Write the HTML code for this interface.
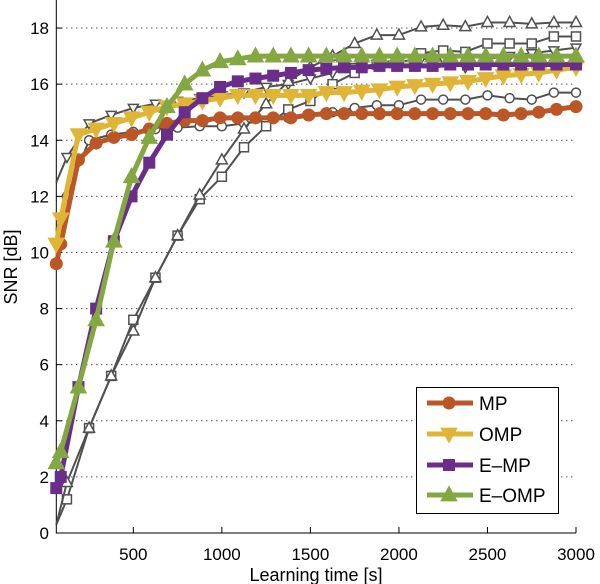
<!DOCTYPE html>
<html><head><meta charset="utf-8"><style>
html,body{margin:0;padding:0;background:#fff;}
svg{display:block;font-family:"Liberation Sans",Arial,sans-serif;}
</style></head><body>
<svg id="chart" width="600" height="584" viewBox="0 0 600 584"></svg>
<script>
const xTicks=[500,1000,1500,2000,2500,3000];
const yTicks=[0,2,4,6,8,10,12,14,16,18];
const colX=[65,90,190,290,390,490,590,690,790,890,990,1090,1190,1290,1390,1490,1590,1690,1790,1890,1990,2090,2190,2290,2390,2490,2590,2690,2790,2890,3000];
const mpVals=[9.6,10.3,13.3,13.9,14.1,14.2,14.4,14.6,14.7,14.7,14.8,14.8,14.8,14.8,14.8,14.9,14.95,14.95,14.95,14.95,14.95,14.95,14.95,14.95,14.95,14.95,14.9,14.95,15.0,15.1,15.2];
const ompVals=[10.3,11.2,14.2,14.4,14.6,14.8,15.0,15.2,15.3,15.4,15.5,15.6,15.6,15.6,15.6,15.6,15.7,15.7,15.75,15.8,15.9,15.95,16.0,16.05,16.1,16.2,16.3,16.35,16.4,16.5,16.6];
const empVals=[1.6,2.0,5.2,8.0,10.4,12.0,13.2,14.2,15.0,15.5,15.9,16.1,16.2,16.3,16.4,16.5,16.55,16.6,16.6,16.65,16.65,16.65,16.65,16.7,16.7,16.7,16.7,16.7,16.7,16.7,16.7];
const eompVals=[2.5,2.9,5.2,7.6,10.4,12.7,14.1,15.2,16.0,16.5,16.8,16.9,17.0,17.0,17.0,17.0,17.0,17.0,17.0,17.0,17.0,17.0,17.0,17.0,17.0,17.0,17.0,17.0,17.0,17.0,17.0];
const grayX=[65,125,250,375,500,625,750,875,1000,1125,1250,1375,1500,1625,1750,1875,2000,2125,2250,2375,2500,2625,2750,2875,3000];
const gCircle=[10.8,12.0,14.0,14.2,14.3,14.4,14.45,14.5,14.5,14.6,14.7,14.8,14.9,15.0,15.15,15.25,15.25,15.45,15.45,15.45,15.6,15.5,15.45,15.7,15.7];
const gDown=[12.5,13.4,14.6,14.9,15.15,15.3,15.4,15.5,15.6,15.7,15.9,16.0,16.2,16.4,16.6,16.7,16.8,16.9,16.9,16.6,16.9,17.0,17.1,17.2,17.3];
const gSquare=[0.3,1.2,3.74,5.6,7.6,9.1,10.6,11.9,12.7,13.75,14.5,15.1,15.4,16.0,16.4,16.7,16.9,17.1,17.2,17.15,17.45,17.45,17.45,17.7,17.7];
const gUp=[0.3,1.8,3.74,5.6,7.2,9.1,10.6,12.05,13.3,14.4,15.3,16.1,16.6,17.0,17.45,17.75,17.75,18.04,18.1,18.05,18.2,18.2,18.15,18.2,18.2];

const X0=65,X1=3000,PX0=56.3,PX1=576,Y0=0,Y1=19,PY0=533,PY1=0;
const sx=v=>PX0+(v-X0)/(X1-X0)*(PX1-PX0);
const sy=v=>PY0+(v-Y0)/(Y1-Y0)*(PY1-PY0);
const svg=document.getElementById('chart');
const NS='http://www.w3.org/2000/svg';
function mk(tag,attrs,parent){const e=document.createElementNS(NS,tag);for(const k in attrs)e.setAttribute(k,attrs[k]);(parent||svg).appendChild(e);return e;}

yTicks.forEach(t=>{if(t===0)return;
 const g=mk('line',{x1:PX0,x2:PX1,y1:sy(t),y2:sy(t),stroke:'#000','stroke-width':1,'stroke-dasharray':'1,4'});
 
 
});
const ax=mk('path',{d:`M${PX0},0 V${PY0} H${PX1}`,fill:'none',stroke:'#000','stroke-width':1});


xTicks.forEach(t=>{
 const l=mk('line',{x1:sx(t),x2:sx(t),y1:PY0,y2:PY0-6,stroke:'#000'});
 
 
 const tx=mk('text',{x:sx(t),y:560,'text-anchor':'middle','font-size':17});
 tx.textContent=t;
 
 
});
yTicks.forEach(t=>{
 const l=mk('line',{x1:PX0,x2:PX0+6,y1:sy(t),y2:sy(t),stroke:'#000'});
 
 
 const tx=mk('text',{x:49,y:sy(t)+6,'text-anchor':'end','font-size':17});
 tx.textContent=t;
 
 
});
const xl=mk('text',{x:316,y:581,'text-anchor':'middle','font-size':18});
xl.textContent='Learning time [s]';


const yl=mk('text',{x:0,y:0,'text-anchor':'middle','font-size':18,transform:'translate(17,267) rotate(-90)'});
yl.textContent='SNR [dB]';



function marker(type,x,y,s,fill,stroke,sw,parent){
 let e;
 if(type==='circle')e=mk('circle',{cx:x,cy:y,r:s,fill,stroke,'stroke-width':sw},parent);
 else if(type==='square')e=mk('rect',{x:x-s,y:y-s,width:2*s,height:2*s,fill,stroke,'stroke-width':sw},parent);
 else if(type==='up')e=mk('polygon',{points:`${x},${y-s*1.2} ${x-s*1.1},${y+s*0.8} ${x+s*1.1},${y+s*0.8}`,fill,stroke,'stroke-width':sw},parent);
 else e=mk('polygon',{points:`${x},${y+s*1.2} ${x-s*1.1},${y-s*0.8} ${x+s*1.1},${y-s*0.8}`,fill,stroke,'stroke-width':sw},parent);
 return e;
}
function series(name,xs,ys,color,width,type,s,filled,skipFirst){
 const g=mk('g',{});
 
 
 const pts=xs.map((x,i)=>sx(x)+','+sy(ys[i])).join(' ');
 mk('polyline',{points:pts,fill:'none',stroke:color,'stroke-width':width,'stroke-linejoin':'round'},g);
 xs.forEach((x,i)=>{
  if(skipFirst&&i===0)return;
  const m=marker(type,sx(x),sy(ys[i]),s,filled?color:'#fff',color,filled?0:1.5,g);
  
  
 });
}
series('gray-circle-series',grayX,gCircle,'#505050',2,'circle',4.5,false,true);
series('gray-down-series',grayX,gDown,'#505050',2,'down',4.5,false,true);
series('gray-square-series',grayX,gSquare,'#505050',2,'square',4.5,false,true);
series('gray-up-series',grayX,gUp,'#505050',2,'up',5,false,true);
series('mp-series',colX,mpVals,'#bb5627',5,'circle',6.5,true,false);
series('omp-series',colX,ompVals,'#e0b435',5,'down',8,true,false);
series('emp-series',colX,empVals,'#6a2e8a',5,'square',6,true,false);
series('eomp-series',colX,eompVals,'#83a842',5,'up',8,true,false);

const lg=mk('g',{});


mk('rect',{x:416.5,y:387.5,width:142,height:126,fill:'#fff',stroke:'#000','stroke-width':1},lg);
const legNames=['MP','OMP','E\u2013MP','E\u2013OMP'];
const legCols=['#bb5627','#e0b435','#6a2e8a','#83a842'];
const legTypes=['circle','down','square','up'];
const legY=[403,434,465,495];
legNames.forEach((n,i)=>{
 const e=mk('g',{},lg);
 
 
 mk('line',{x1:427,x2:473,y1:legY[i],y2:legY[i],stroke:legCols[i],'stroke-width':5},e);
 marker(legTypes[i],449,legY[i],legTypes[i]==='circle'?6.5:(legTypes[i]==='square'?6:8),legCols[i],legCols[i],0,e);
 const t=mk('text',{x:479,y:legY[i]+7,'font-size':19},e);
 t.textContent=n;
});
</script>
</body></html>
